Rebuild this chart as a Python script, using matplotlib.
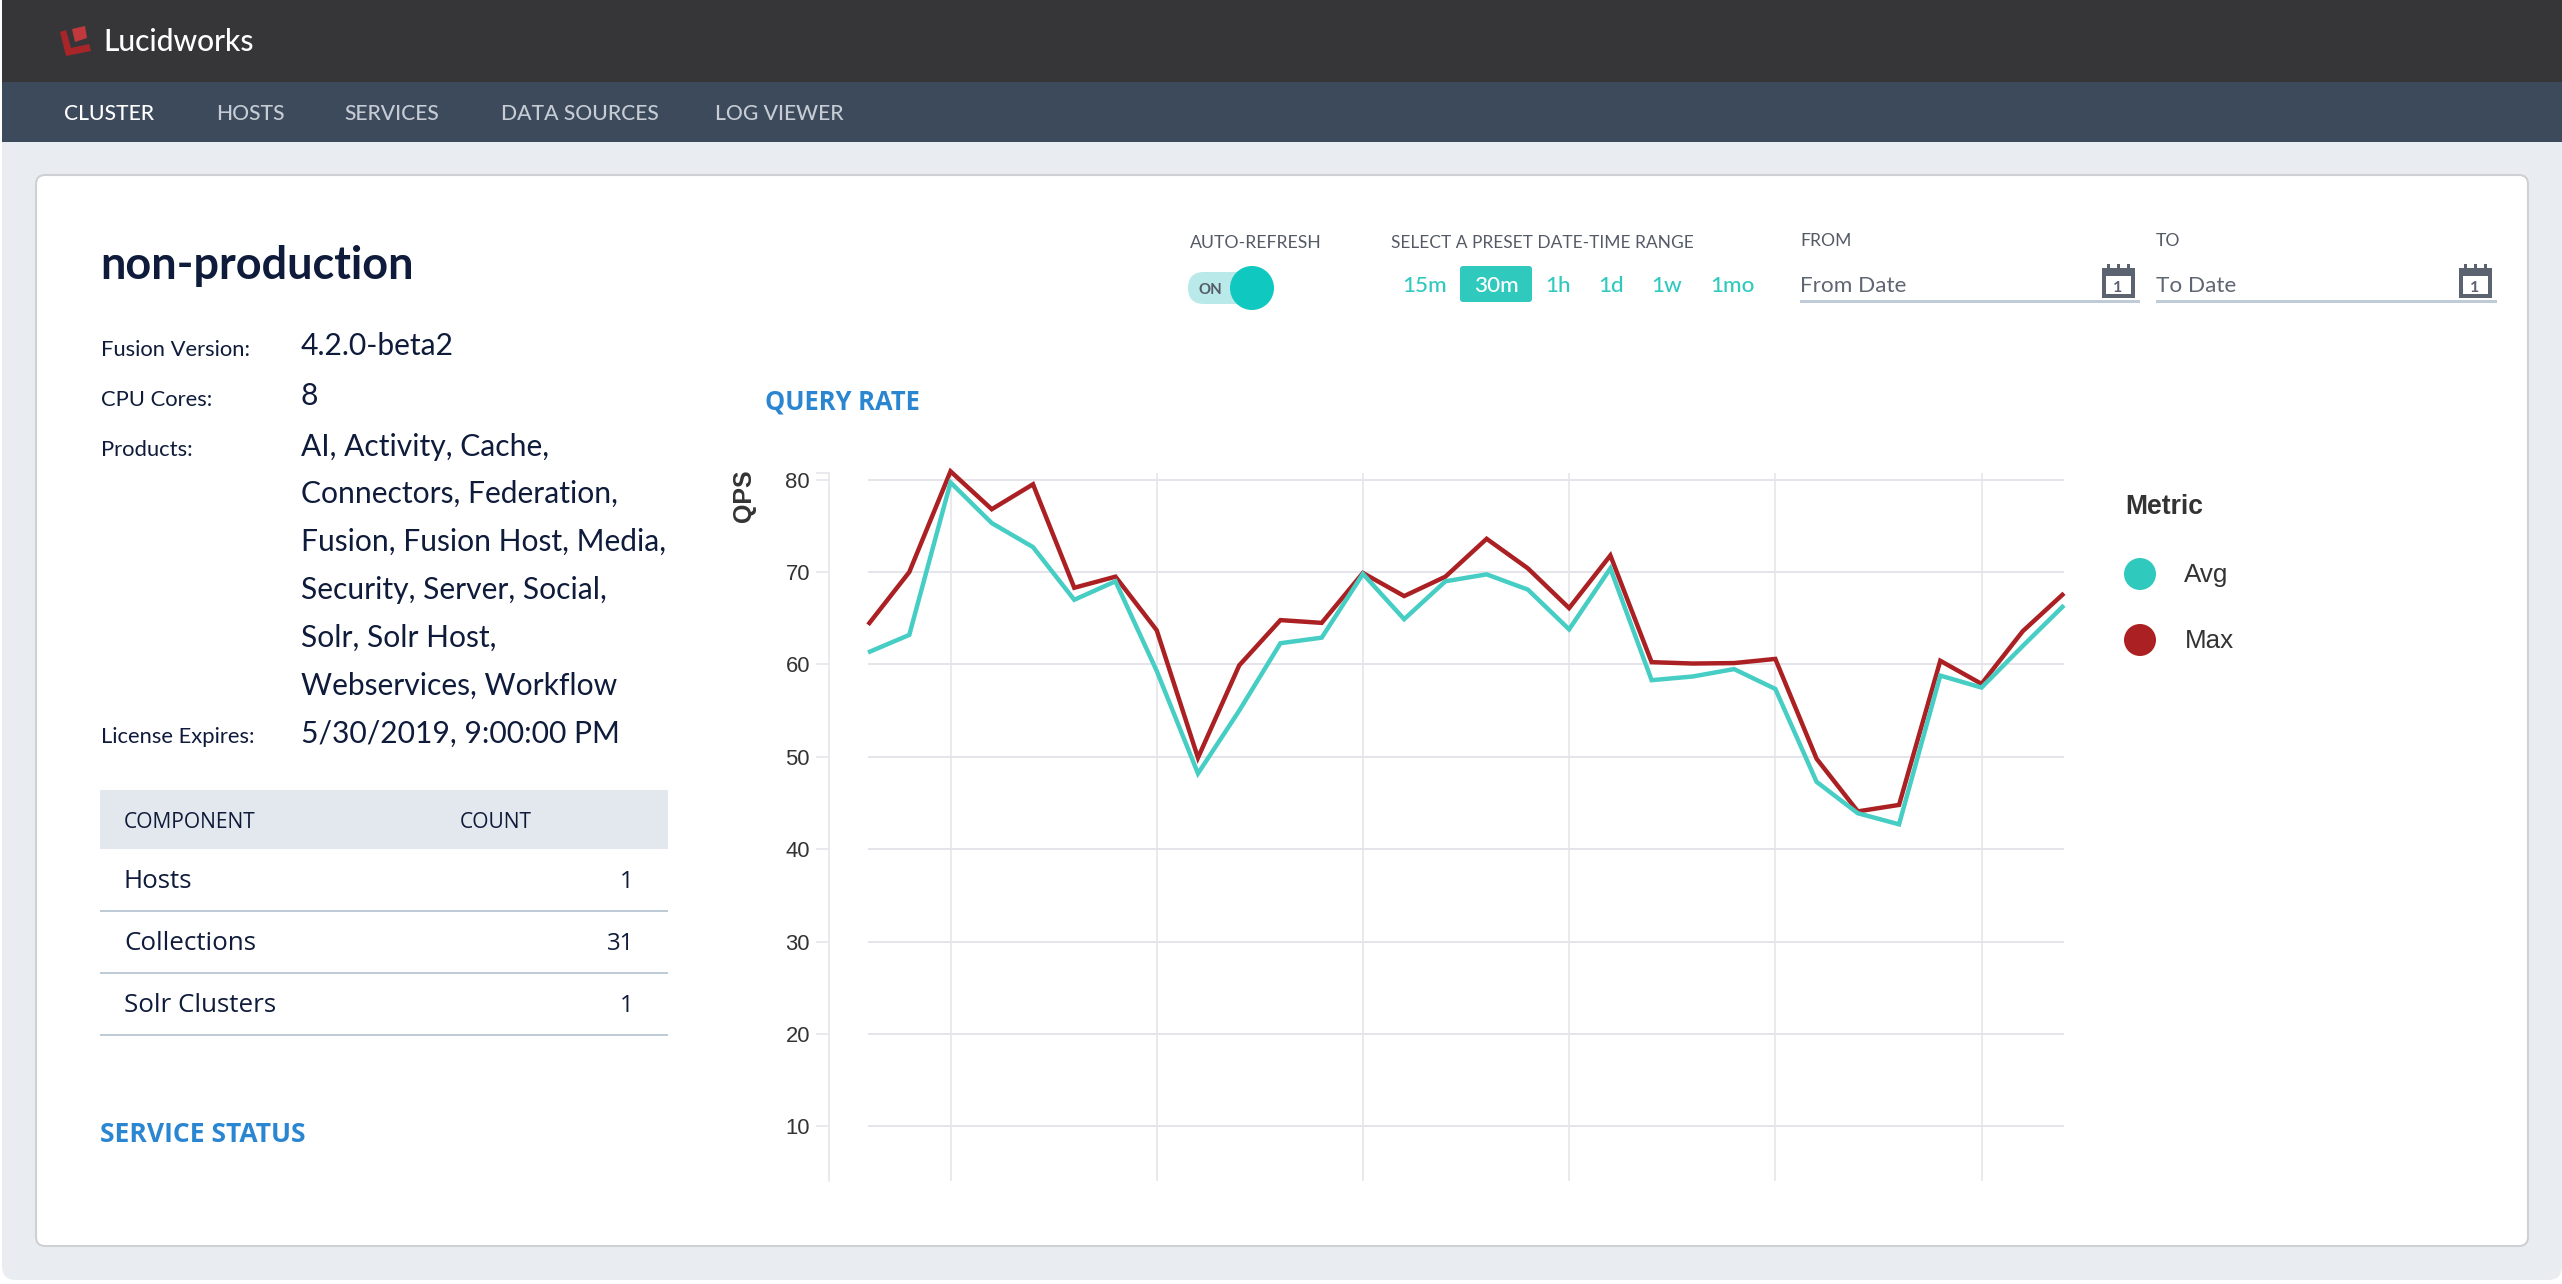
import matplotlib
matplotlib.use('Agg')
import matplotlib.pyplot as plt
from matplotlib.patches import Rectangle, FancyBboxPatch, Circle, Polygon

W, H = 2562, 1284

# values
max_qps = [64.3, 70.0, 80.9, 76.8, 79.5, 68.3, 69.5, 63.7, 49.9, 59.9,
           64.8, 64.5, 69.9, 67.4, 69.5, 73.6, 70.4, 66.1, 71.8, 60.25,
           60.1, 60.15, 60.6, 49.8, 44.1, 44.8, 60.4, 57.9, 63.6, 67.7]
avg_qps = [61.3, 63.2, 79.7, 75.3, 72.7, 67.0, 69.0, 59.3, 48.2, 55.0,
           62.3, 62.9, 69.8, 64.9, 69.0, 69.75, 68.1, 63.8, 70.4, 58.3,
           58.7, 59.5, 57.35, 47.3, 43.9, 42.7, 58.8, 57.5, 62.0, 66.4]
y_ticks = [10, 20, 30, 40, 50, 60, 70, 80]
x_grid = [2, 7, 12, 17, 22, 27]

nav_items = ['CLUSTER', 'HOSTS', 'SERVICES', 'DATA SOURCES', 'LOG VIEWER']
nav_x = [64, 216, 344, 501, 715]
info_labels = ['Fusion Version:', 'CPU Cores:', 'Products:', 'License Expires:']
info_label_y = [356, 406, 456, 743]
info_values = ['4.2.0-beta2', '8', 'AI, Activity, Cache,', 'Connectors, Federation,',
               'Fusion, Fusion Host, Media,', 'Security, Server, Social,', 'Solr, Solr Host,',
               'Webservices, Workflow', '5/30/2019, 9:00:00 PM']
info_value_y = [355, 405, 456, 503, 551, 599, 647, 695, 743]
components = ['Hosts', 'Collections', 'Solr Clusters']
counts = ['1', '31', '1']
presets = ['15m', '30m', '1h', '1d', '1w', '1mo']
preset_x = [1425, 1496, 1558, 1611, 1667, 1732]

TEAL = '#46cdc4'
TEAL_SOLID = '#30c9be'
RED = '#ab2023'
NAVY = '#0f1b3a'
BLUE = '#2a86d1'
GRID = '#e4e4ea'
RULE = '#bfcbd6'
GREY = '#555b66'


def px(n):
    return n * 0.72


fig = plt.figure(figsize=(W / 100, H / 100), dpi=100, facecolor='white')

ui = fig.add_axes([0, 0, 1, 1])
ui.set_xlim(0, W)
ui.set_ylim(H, 0)
ui.axis('off')


def label(x, y, s, size, color=NAVY, family='Lato', weight='normal', ha='left', **kw):
    ui.text(x, y, s, fontsize=px(size), color=color, family=family, weight=weight,
            ha=ha, va='baseline', **kw)


# page, bars, card
ui.add_patch(FancyBboxPatch((2, -30), W - 2, 1310, boxstyle='round,pad=0,rounding_size=14',
                            fc='#e9ecf1', ec='none'))
ui.add_patch(Rectangle((2, 0), W, 82, fc='#363638', ec='none'))
ui.add_patch(Rectangle((2, 82), W, 60, fc='#3d4a5c', ec='none'))
ui.add_patch(FancyBboxPatch((36, 175), 2492, 1071, boxstyle='round,pad=0,rounding_size=9',
                            fc='white', ec='#cfd0d3', lw=1.5))

# logo
ui.add_patch(Polygon([(60, 32), (66, 30), (71, 48), (89, 44), (91, 51), (66, 56)], fc='#a8262a', ec='none'))
ui.add_patch(Polygon([(72, 29), (85, 26), (87, 38), (75, 42)], fc='#c0393d', ec='none'))
label(103, 51, 'Lucidworks', 30, color='white', weight='medium')

for i, item in enumerate(nav_items):
    label(nav_x[i], 120, item, 21.2, color='white' if i == 0 else '#c6ccd4', weight='medium')

label(100, 279, 'non-production', 45, weight='bold')
for s, y in zip(info_labels, info_label_y):
    label(101, y, s, 22)
for s, y in zip(info_values, info_value_y):
    label(301, y, s, 30)

# component table
ui.add_patch(Rectangle((100, 790), 568, 59, fc='#e3e8ee', ec='none'))
label(124, 828, 'COMPONENT', 21, family='Open Sans')
label(460, 828, 'COUNT', 21, family='Open Sans')
for i, (c, n) in enumerate(zip(components, counts)):
    label(124, 888 + 62 * i, c, 26, family='Open Sans')
    label(634, 888 + 62 * i, n, 24, family='Open Sans', ha='right')
    ui.add_patch(Rectangle((100, 910 + 62 * i), 568, 2, fc=RULE, ec='none'))

label(100, 1142, 'SERVICE STATUS', 26.5, color=BLUE, family='Open Sans', weight='bold')
label(765, 410, 'QUERY RATE', 25.5, color=BLUE, family='Open Sans', weight='bold')

# date range controls
label(1190, 248, 'AUTO-REFRESH', 17.6, color=GREY)
label(1391, 248, 'SELECT A PRESET DATE-TIME RANGE', 17.4, color=GREY)
label(1800, 246, 'FROM', 17.5, color=GREY)
label(2156, 246, 'TO', 17.5, color=GREY)

ui.add_patch(FancyBboxPatch((1188, 272), 64, 32, boxstyle='round,pad=0,rounding_size=16',
                            fc='#b9e9e8', ec='none'))
ui.add_patch(Circle((1252, 288), 22, fc='#0fc9c0', ec='none'))
label(1210, 294, 'ON', 15, color=GREY, ha='center', weight='bold')

ui.add_patch(FancyBboxPatch((1460, 266), 72, 36, boxstyle='round,pad=0,rounding_size=3',
                            fc=TEAL_SOLID, ec='none'))
for i, (s, x) in enumerate(zip(presets, preset_x)):
    label(x, 292, s, 22.5, color='white' if i == 1 else TEAL_SOLID, ha='center', weight='medium')

for x0, x1, s in [(1800, 2140, 'From Date'), (2156, 2497, 'To Date')]:
    label(x0, 292, s, 22.5, color='#5f6673')
    ui.add_patch(Rectangle((x0, 300), x1 - x0, 2.5, fc=RULE, ec='none'))
    # calendar icon
    ix = x1 - 38
    ui.add_patch(Rectangle((ix, 268), 33, 30, fc='#5b6270', ec='none'))
    ui.add_patch(Rectangle((ix + 4, 276), 25, 18, fc='white', ec='none'))
    for dx in (5, 15, 25):
        ui.add_patch(Rectangle((ix + dx, 264), 2.5, 5, fc='#5b6270', ec='none'))
    label(ix + 16, 292, '1', 16, color='#5b6270', ha='center', weight='bold')

# legend
label(2125, 514, 'Metric', 26.5, color='#333333', family='Liberation Sans', weight='bold')
ui.add_patch(Circle((2140, 574), 16, fc=TEAL_SOLID, ec='none'))
label(2184, 582, 'Avg', 26, color='#333333', family='Liberation Sans')
ui.add_patch(Circle((2140, 640), 16, fc=RED, ec='none'))
label(2185, 648, 'Max', 26, color='#333333', family='Liberation Sans')

# chart
left, right, top, bottom = 829, 2064, 473, 1181
ax = fig.add_axes([left / W, 1 - bottom / H, (right - left) / W, (bottom - top) / H])
ax.patch.set_alpha(0)
xs = list(range(len(max_qps)))
ax.set_xlim(-0.947, xs[-1])
y_top = 80.72
ax.set_ylim(4.1, y_top)

ax.hlines(y_ticks, 0, xs[-1], color=GRID, lw=1.4, zorder=1)
ax.vlines(x_grid, 4.1, y_top, color=GRID, lw=1.1, zorder=1)
ax.plot(xs, max_qps, color=RED, lw=3.2, solid_joinstyle='miter', solid_capstyle='butt',
        zorder=3, clip_on=False)
ax.plot(xs, avg_qps, color=TEAL, lw=3.2, solid_joinstyle='miter', solid_capstyle='butt',
        zorder=4, clip_on=False)

for side in ['top', 'right', 'bottom']:
    ax.spines[side].set_visible(False)
ax.spines['left'].set_color(GRID)
ax.spines['left'].set_linewidth(1.1)
ax.set_xticks([])
ax.set_yticks(y_ticks)
ax.set_yticks([y_top], minor=True)
ax.tick_params(axis='y', which='both', length=px(13), width=1.1, color=GRID, pad=px(6))
ax.tick_params(axis='y', which='minor', labelleft=False)
ax.tick_params(axis='y', which='major', labelsize=px(22), labelcolor='#333333')
for t in ax.get_yticklabels():
    t.set_family('Liberation Sans')

ui.text(744, 496, 'QPS', fontsize=px(25), color='#333333', family='Liberation Sans', weight='bold',
        rotation=90, ha='center', va='center')

fig.savefig('out.png', dpi=100, facecolor='white')
